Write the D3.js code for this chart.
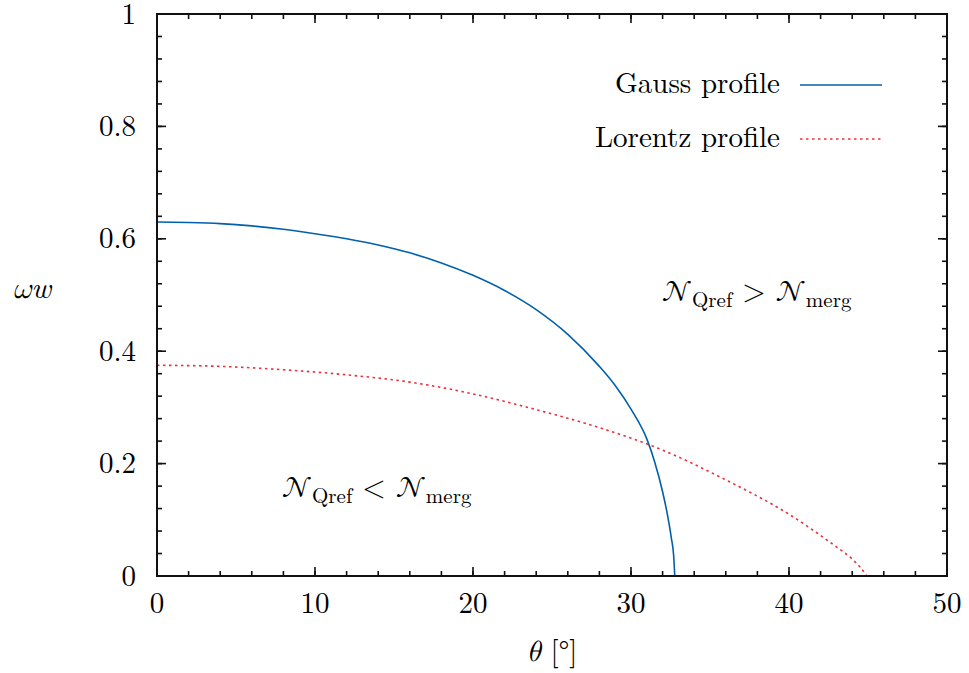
<!DOCTYPE html>
<html>
<head>
<meta charset="utf-8">
<script src="https://cdn.jsdelivr.net/npm/d3@7"></script>
<style>
body { margin: 0; background: #fff; }
</style>
</head>
<body>
<svg width="969" height="673"></svg>
<script>
// values
var thetaGauss = [0, 2, 4, 6, 8, 10, 12, 14, 16, 18, 20, 22, 24, 26, 28, 29, 30, 31, 31.5, 32, 32.3, 32.55, 32.7, 32.77];
var wwGauss    = [0.630, 0.629, 0.627, 0.623, 0.617, 0.609, 0.600, 0.589, 0.575, 0.557, 0.535, 0.508, 0.474, 0.430, 0.373, 0.339, 0.297, 0.244, 0.203, 0.150, 0.110, 0.068, 0.036, 0];
var thetaLorentz = [0, 4, 8, 12, 16, 20, 24, 28, 32, 36, 38, 40, 42, 43, 44, 44.5, 44.92];
var wwLorentz    = [0.375, 0.373, 0.367, 0.358, 0.345, 0.324, 0.296, 0.264, 0.224, 0.171, 0.142, 0.110, 0.072, 0.052, 0.030, 0.016, 0];
var xTicks = [0, 10, 20, 30, 40, 50];
var yTicks = [0, 0.2, 0.4, 0.6, 0.8, 1];
var seriesNames = ["Gauss profile", "Lorentz profile"];

var rm = "'Latin Modern Roman'", mathFont = "'Latin Modern Math'";

var svg = d3.select("svg"),
    margin = {top: 14, right: 22, bottom: 97, left: 157},
    width = 969 - margin.left - margin.right,
    height = 673 - margin.top - margin.bottom,
    g = svg.append("g").attr("transform", "translate(" + margin.left + "," + margin.top + ")");

var x = d3.scaleLinear().domain([0, 50]).range([0, width]),
    y = d3.scaleLinear().domain([0, 1]).range([height, 0]);

var line = d3.line()
    .curve(d3.curveMonotoneX)
    .x(function(d) { return x(d[0]); })
    .y(function(d) { return y(d[1]); });

var gauss = d3.zip(thetaGauss, wwGauss),
    lorentz = d3.zip(thetaLorentz, wwLorentz);

// ticks on all four sides, pointing inward
var xMinor = d3.range(0, 50.01, 2), yMinor = d3.range(0, 1.001, 0.04);
function tickLines(vals, len, horiz) {
  vals.forEach(function(v) {
    if (horiz) {
      g.append("line").attr("x1", x(v)).attr("x2", x(v)).attr("y1", height).attr("y2", height - len);
      g.append("line").attr("x1", x(v)).attr("x2", x(v)).attr("y1", 0).attr("y2", len);
    } else {
      g.append("line").attr("x1", 0).attr("x2", len).attr("y1", y(v)).attr("y2", y(v));
      g.append("line").attr("x1", width).attr("x2", width - len).attr("y1", y(v)).attr("y2", y(v));
    }
  });
}
tickLines(xMinor, 5, true);
tickLines(yMinor, 5, false);
tickLines(xTicks, 9, true);
tickLines(yTicks, 9, false);
g.selectAll("line").attr("stroke", "#111").attr("stroke-width", 1.6);

g.selectAll(".xl").data(xTicks).enter().append("text")
    .attr("x", function(d) { return x(d); })
    .attr("y", height + 37)
    .attr("text-anchor", "middle")
    .style("font-family", rm)
    .style("font-size", "29px")
    .text(function(d) { return d; });

g.selectAll(".yl").data(yTicks).enter().append("text")
    .attr("x", -21)
    .attr("y", function(d) { return y(d); })
    .attr("dy", "0.33em")
    .attr("text-anchor", "end")
    .style("font-family", rm)
    .style("font-size", "29px")
    .text(function(d) { return d; });

// curves
g.append("path")
    .attr("d", line(gauss))
    .attr("fill", "none")
    .attr("stroke", "#0060ad")
    .attr("stroke-width", 1.6);

g.append("path")
    .attr("d", line(lorentz))
    .attr("fill", "none")
    .attr("stroke", "#e8303a")
    .attr("stroke-width", 1.6)
    .attr("stroke-dasharray", "2.5,3.5");

// frame
g.append("rect")
    .attr("width", width).attr("height", height)
    .attr("fill", "none").attr("stroke", "#111").attr("stroke-width", 2);

// legend
var legend = [
  {name: seriesNames[0], color: "#0060ad", dash: null, y: 85},
  {name: seriesNames[1], color: "#e8303a", dash: "2.5,3.5", y: 139}
];
legend.forEach(function(l) {
  svg.append("text")
      .attr("x", 780).attr("y", l.y + 8)
      .attr("text-anchor", "end")
      .style("font-family", rm)
      .style("font-size", "29px")
      .text(l.name);
  svg.append("line")
      .attr("x1", 800).attr("x2", 882).attr("y1", l.y).attr("y2", l.y)
      .attr("stroke", l.color).attr("stroke-width", 1.6)
      .attr("stroke-dasharray", l.dash);
});

// region labels
function region(tx, ty, op) {
  var t = g.append("text").attr("x", x(tx)).attr("y", y(ty))
      .style("font-family", rm).style("font-size", "30px");
  t.append("tspan").style("font-family", mathFont).text("𝒩");
  t.append("tspan").attr("dy", 6).style("font-size", "21px").text("Qref");
  t.append("tspan").attr("dy", -6).style("font-family", mathFont).text(" " + op + " ");
  t.append("tspan").style("font-family", mathFont).text("𝒩");
  t.append("tspan").attr("dy", 6).style("font-size", "21px").text("merg");
}
region(31.95, 0.49, ">");
region(7.9, 0.14, "<");

// axis titles
var yt = svg.append("text")
    .attr("x", 12).attr("y", 298)
    .style("font-family", mathFont)
    .style("font-size", "30px");
yt.append("tspan").style("font-style", "italic").text("ω");
yt.append("tspan").style("font-family", rm).style("font-style", "italic").text("w");

var xt = svg.append("text")
    .attr("x", 552).attr("y", 661)
    .attr("text-anchor", "middle")
    .style("font-family", rm)
    .style("font-size", "29px");
xt.append("tspan").style("font-family", mathFont).style("font-style", "italic").text("θ");
xt.append("tspan").text(" [°]");
</script>
</body>
</html>
